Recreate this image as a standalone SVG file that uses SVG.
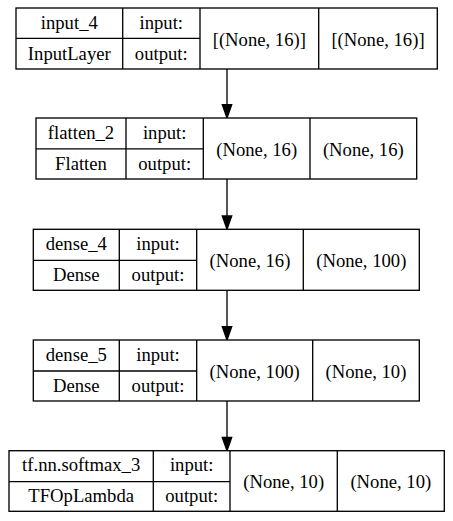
<svg xmlns="http://www.w3.org/2000/svg" width="453" height="521" viewBox="0 0 453 521">
<defs>
<style>
.box{fill:#fff;stroke:#000;stroke-width:1.33}
.ln{stroke:#000;stroke-width:1.33;fill:none}
text{font-family:"Liberation Serif","Times New Roman",serif;font-size:18.67px;fill:#000;text-anchor:middle}
.edge{stroke:#000;stroke-width:1.33;fill:none}
.head{fill:#000;stroke:#000;stroke-width:1.33}
</style>
</defs>
<rect width="453" height="521" fill="#fff"/>
<g id="connectors">
<line class="edge" x1="227" y1="69" x2="227" y2="105"/>
<polygon class="head" points="222.3,104.7 231.7,104.7 227,118"/>
<line class="edge" x1="227" y1="179" x2="227" y2="216"/>
<polygon class="head" points="222.3,216 231.7,216 227,229.3"/>
<line class="edge" x1="227" y1="290.3" x2="227" y2="327"/>
<polygon class="head" points="222.3,326.7 231.7,326.7 227,340"/>
<line class="edge" x1="227" y1="401" x2="227" y2="437.5"/>
<polygon class="head" points="222.3,437.4 231.7,437.4 227,450.7"/>
</g>
<g id="node-input_4">
<rect class="box" x="16" y="8" width="421.3" height="61"/>
<line class="ln" x1="16" y1="38.3" x2="200" y2="38.3"/>
<line class="ln" x1="122.7" y1="8" x2="122.7" y2="69"/>
<line class="ln" x1="200" y1="8" x2="200" y2="69"/>
<line class="ln" x1="318.7" y1="8" x2="318.7" y2="69"/>
<text x="69.3" y="28.5">input_4</text>
<text x="69.3" y="59.5">InputLayer</text>
<text x="161.3" y="28.5">input:</text>
<text x="161.3" y="59.5">output:</text>
<text x="259.3" y="45.5">[(None, 16)]</text>
<text x="378" y="45.5">[(None, 16)]</text>
</g>
<g id="node-flatten_2">
<rect class="box" x="36" y="118" width="380.7" height="61"/>
<line class="ln" x1="36" y1="148.8" x2="203.3" y2="148.8"/>
<line class="ln" x1="126" y1="118" x2="126" y2="179"/>
<line class="ln" x1="203.3" y1="118" x2="203.3" y2="179"/>
<line class="ln" x1="310" y1="118" x2="310" y2="179"/>
<text x="81" y="138.5">flatten_2</text>
<text x="81" y="169.5">Flatten</text>
<text x="164.7" y="138.5">input:</text>
<text x="164.7" y="169.5">output:</text>
<text x="256.7" y="155.5">(None, 16)</text>
<text x="363.3" y="155.5">(None, 16)</text>
</g>
<g id="node-dense_4">
<rect class="box" x="33.3" y="229.3" width="386" height="61"/>
<line class="ln" x1="33.3" y1="260.3" x2="196.7" y2="260.3"/>
<line class="ln" x1="119.3" y1="229.3" x2="119.3" y2="290.3"/>
<line class="ln" x1="196.7" y1="229.3" x2="196.7" y2="290.3"/>
<line class="ln" x1="303.3" y1="229.3" x2="303.3" y2="290.3"/>
<text x="76.3" y="249.8">dense_4</text>
<text x="76.3" y="280.8">Dense</text>
<text x="158" y="249.8">input:</text>
<text x="158" y="280.8">output:</text>
<text x="250" y="266.8">(None, 16)</text>
<text x="361.3" y="266.8">(None, 100)</text>
</g>
<g id="node-dense_5">
<rect class="box" x="33.3" y="340" width="386" height="61"/>
<line class="ln" x1="33.3" y1="371" x2="196.7" y2="371"/>
<line class="ln" x1="119.3" y1="340" x2="119.3" y2="401"/>
<line class="ln" x1="196.7" y1="340" x2="196.7" y2="401"/>
<line class="ln" x1="312.7" y1="340" x2="312.7" y2="401"/>
<text x="76.3" y="360.5">dense_5</text>
<text x="76.3" y="391.5">Dense</text>
<text x="158" y="360.5">input:</text>
<text x="158" y="391.5">output:</text>
<text x="254.7" y="377.5">(None, 100)</text>
<text x="366" y="377.5">(None, 10)</text>
</g>
<g id="node-tf.nn.softmax_3">
<rect class="box" x="9" y="450.7" width="435.3" height="60.6"/>
<line class="ln" x1="9" y1="481.7" x2="230" y2="481.7"/>
<line class="ln" x1="153.3" y1="450.7" x2="153.3" y2="511.3"/>
<line class="ln" x1="230" y1="450.7" x2="230" y2="511.3"/>
<line class="ln" x1="337.3" y1="450.7" x2="337.3" y2="511.3"/>
<text x="81.2" y="471.2">tf.nn.softmax_3</text>
<text x="81.2" y="502.2">TFOpLambda</text>
<text x="191.7" y="471.2">input:</text>
<text x="191.7" y="502.2">output:</text>
<text x="283.7" y="488.2">(None, 10)</text>
<text x="390.8" y="488.2">(None, 10)</text>
</g>
</svg>
